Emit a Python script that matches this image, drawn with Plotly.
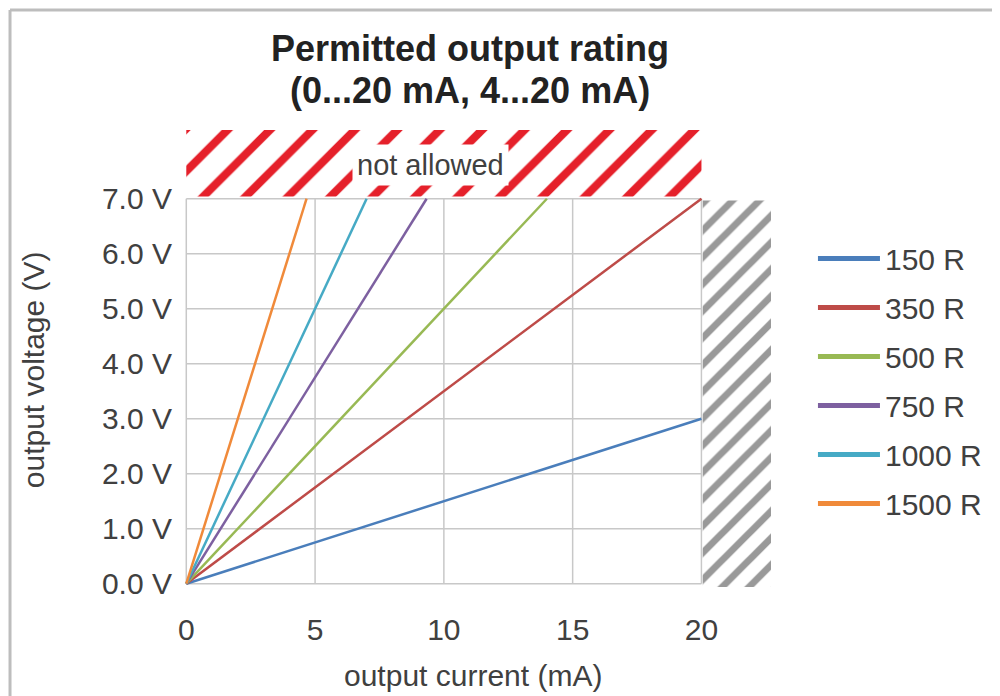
import plotly.graph_objects as go

# load lines: output current (mA) vs output voltage (V), end points
loads = ["150 R", "350 R", "500 R", "750 R", "1000 R", "1500 R"]
current_ma = [[0, 20], [0, 20], [0, 14], [0, 9.33], [0, 7], [0, 4.67]]
voltage_v = [[0, 3.0], [0, 7.0], [0, 7.0], [0, 7.0], [0, 7.0], [0, 7.0]]
colors = ["#4a7ebb", "#be4b48", "#98b954", "#7d60a0", "#46aac5", "#f08a3a"]

x_ticks = [0, 5, 10, 15, 20]
y_ticks = [0, 1, 2, 3, 4, 5, 6, 7]
y_ticktext = ["0.0 V", "1.0 V", "2.0 V", "3.0 V", "4.0 V", "5.0 V", "6.0 V", "7.0 V"]

# forbidden zones
red_x = [0, 20, 20, 0, 0]
red_y = [7.04, 7.04, 8.25, 8.25, 7.04]
grey_x = [20.05, 22.7, 22.7, 20.05, 20.05]
grey_y = [-0.06, -0.06, 6.97, 6.97, -0.06]

FONT = "Liberation Sans, Arial, sans-serif"
TXT = "#404040"

fig = go.Figure()

fig.add_trace(go.Scatter(x=red_x, y=red_y, mode="lines", fill="toself",
                         fillcolor="white", line=dict(width=0),
                         fillpattern=dict(shape="/", fgcolor="#e5202a", bgcolor="white",
                                          fgopacity=1, size=30, solidity=0.27),
                         showlegend=False, hoverinfo="skip"))
fig.add_trace(go.Scatter(x=grey_x, y=grey_y, mode="lines", fill="toself",
                         fillcolor="white", line=dict(width=0),
                         fillpattern=dict(shape="/", fgcolor="#999999", bgcolor="white",
                                          fgopacity=1, size=19, solidity=0.36),
                         showlegend=False, hoverinfo="skip"))

for name, xs, ys, c in zip(loads, current_ma, voltage_v, colors):
    fig.add_trace(go.Scatter(x=xs, y=ys, mode="lines", line=dict(color=c, width=2.5),
                             showlegend=False, name=name))
    # thicker legend sample
    fig.add_trace(go.Scatter(x=[None], y=[None], mode="lines", name=name,
                             line=dict(color=c, width=5), legendgroup=name))

# gridlines
shapes = []
for v in x_ticks:
    shapes.append(dict(type="line", xref="x", yref="y", x0=v, x1=v, y0=0, y1=7,
                       line=dict(color="#c8c8c8", width=1.5), layer="below"))
for v in y_ticks:
    shapes.append(dict(type="line", xref="x", yref="y", x0=0, x1=20, y0=v, y1=v,
                       line=dict(color="#c8c8c8", width=1.5), layer="below"))
# outer frame (top + left)
shapes.append(dict(type="line", xref="paper", yref="paper", x0=-0.2986, x1=1.5,
                   y0=1.2626, y1=1.2626, line=dict(color="#bdbdbd", width=3)))
shapes.append(dict(type="line", xref="paper", yref="paper", x0=-0.2986, x1=-0.2986,
                   y0=1.2626, y1=-0.35, line=dict(color="#bdbdbd", width=3)))

title_font = dict(size=36, color="#222222", family=FONT)
annotations = [
    dict(text="<b>Permitted output rating</b>", xref="paper", yref="paper",
         x=0.4863, y=1.1794, xanchor="center", yanchor="middle",
         showarrow=False, font=title_font),
    dict(text="<b>(0...20 mA, 4...20 mA)</b>", xref="paper", yref="paper",
         x=0.4863, y=1.0875, xanchor="center", yanchor="middle",
         showarrow=False, font=title_font),
    dict(text="not allowed", xref="x", yref="y", x=9.5, y=7.62, showarrow=False,
         xanchor="center", yanchor="middle",
         bgcolor="white", borderpad=4, font=dict(size=29, color=TXT, family=FONT)),
    dict(text="output voltage (V)", xref="paper", yref="paper", x=-0.259, y=0.4748,
         xanchor="center", yanchor="middle",
         textangle=-90, showarrow=False, font=dict(size=30, color=TXT, family=FONT)),
    dict(text="output current (mA)", xref="paper", yref="paper", x=0.4915, y=-0.1926,
         xanchor="center", yanchor="middle",
         showarrow=False, font=dict(size=30, color=TXT, family=FONT)),
]

fig.update_layout(
    width=1000, height=696,
    margin=dict(l=177, r=237, t=122, b=117),
    paper_bgcolor="white", plot_bgcolor="white",
    font=dict(family=FONT, color=TXT, size=30),
    shapes=shapes, annotations=annotations,
    legend=dict(x=1.0716, y=0.7757, xanchor="left", yanchor="top",
                font=dict(size=30, color=TXT), itemwidth=62,
                tracegroupgap=7, bgcolor="rgba(0,0,0,0)"),
    xaxis=dict(range=[-0.05, 22.7], tickvals=x_ticks, showgrid=False, zeroline=False,
               showline=False, ticks="outside", ticklen=16, tickcolor="rgba(0,0,0,0)",
               tickfont=dict(size=30, color=TXT)),
    yaxis=dict(range=[-0.06, 8.25], tickvals=y_ticks, ticktext=y_ticktext,
               showgrid=False, zeroline=False, showline=False, ticks="outside",
               ticklen=6, tickcolor="rgba(0,0,0,0)", tickfont=dict(size=30, color=TXT)),
)

fig.write_html("out.html")
